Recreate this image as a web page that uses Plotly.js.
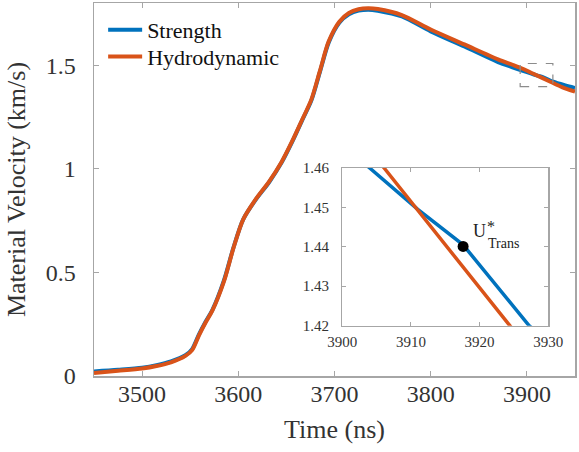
<!DOCTYPE html>
<html>
<head>
<meta charset="utf-8">
<script src="https://cdn.plot.ly/plotly-3.0.1.min.js"></script>
<style>html,body{margin:0;padding:0;background:#fff;}#chart{width:579px;height:452px;}</style>
</head>
<body>
<div id="chart"></div>
<script>
// Strength model (blue)
const strengthTime = [3450, 3475, 3500, 3515, 3530, 3545, 3552, 3559, 3566, 3573, 3585, 3595, 3605, 3618, 3632, 3645, 3656, 3666, 3676, 3685, 3694, 3705, 3715, 3725, 3735, 3745, 3770, 3800, 3835, 3870, 3885, 3895, 3904, 3911, 3917.6, 3927.2, 3940, 3950];
const strengthVel  = [0.022, 0.03, 0.04, 0.052, 0.07, 0.10, 0.13, 0.20, 0.262, 0.318, 0.46, 0.62, 0.755, 0.85, 0.935, 1.03, 1.13, 1.23, 1.33, 1.47, 1.61, 1.705, 1.745, 1.763, 1.768, 1.763, 1.735, 1.663, 1.59, 1.515, 1.49, 1.474, 1.46, 1.4495, 1.4405, 1.42, 1.402, 1.39];
// Hydrodynamic model (orange)
const hydroTime = [3450, 3475, 3500, 3515, 3530, 3545, 3552, 3559, 3566, 3573, 3585, 3595, 3605, 3618, 3632, 3645, 3656, 3666, 3676, 3685, 3694, 3705, 3715, 3725, 3735, 3745, 3770, 3800, 3835, 3870, 3885, 3895, 3906.1, 3924.4, 3937, 3950];
const hydroVel  = [0.015, 0.025, 0.036, 0.048, 0.066, 0.097, 0.125, 0.195, 0.258, 0.315, 0.455, 0.618, 0.755, 0.852, 0.938, 1.033, 1.133, 1.233, 1.335, 1.475, 1.615, 1.71, 1.752, 1.77, 1.775, 1.771, 1.742, 1.672, 1.60, 1.528, 1.502, 1.484, 1.46, 1.42, 1.393, 1.372];
// Transition point
const transTime = [3917.6];
const transVel = [1.4401];
// Ticks
const xTicks = [3500, 3600, 3700, 3800, 3900];
const yTicks = [0, 0.5, 1, 1.5];
const yTickText = ['0', '0.5', '1', '1.5'];
const insetXTicks = [3900, 3910, 3920, 3930];
const insetYTicks = [1.42, 1.43, 1.44, 1.45, 1.46];
const insetYTickText = ['1.42', '1.43', '1.44', '1.45', '1.46'];

const BLUE = '#0072BD', ORANGE = '#D95319';
const FONT = "'Liberation Serif', 'Times New Roman', Times, serif";
const AX = '#a6a6a6', TXT = '#333333';

const traces = [
  {x: strengthTime, y: strengthVel, type: 'scatter', mode: 'lines', name: 'Strength', legend: 'legend',
   line: {color: BLUE, width: 4, shape: 'spline', smoothing: 0.8}, xaxis: 'x', yaxis: 'y'},
  {x: hydroTime, y: hydroVel, type: 'scatter', mode: 'lines', name: 'Hydrodynamic', legend: 'legend2',
   line: {color: ORANGE, width: 4, shape: 'spline', smoothing: 0.8}, xaxis: 'x', yaxis: 'y'},
  {x: strengthTime, y: strengthVel, type: 'scatter', mode: 'lines', showlegend: false,
   line: {color: BLUE, width: 3.5}, xaxis: 'x2', yaxis: 'y2'},
  {x: hydroTime, y: hydroVel, type: 'scatter', mode: 'lines', showlegend: false,
   line: {color: ORANGE, width: 3.5}, xaxis: 'x2', yaxis: 'y2'},
  {x: transTime, y: transVel, type: 'scatter', mode: 'markers', showlegend: false,
   marker: {color: '#000', size: 11}, xaxis: 'x2', yaxis: 'y2'}
];

const legendBase = {xanchor: 'left', yanchor: 'middle', bgcolor: 'rgba(0,0,0,0)',
                    font: {family: FONT, size: 22, color: '#111'}, itemwidth: 34};

const layout = {
  width: 579, height: 452,
  margin: {l: 94, r: 4, t: 3, b: 76},
  paper_bgcolor: '#fff', plot_bgcolor: '#fff',
  font: {family: FONT, color: TXT},
  showlegend: true,
  legend: Object.assign({x: 0.019, y: 0.928}, legendBase),
  legend2: Object.assign({x: 0.019, y: 0.856}, legendBase),
  xaxis: {range: [3450, 3950], tickvals: xTicks, ticks: 'inside', ticklen: 5, tickcolor: AX,
          showline: true, linecolor: AX, linewidth: 1.5, mirror: 'ticks', showgrid: false, zeroline: false,
          tickfont: {family: FONT, size: 24, color: TXT}, ticklabelstandoff: -4,
          title: {text: 'Time (ns)', font: {family: FONT, size: 26, color: TXT}, standoff: 13}},
  yaxis: {range: [0, 1.8], tickvals: yTicks, ticktext: yTickText, ticks: 'inside', ticklen: 5, tickcolor: AX,
          showline: true, linecolor: AX, linewidth: 1.5, mirror: 'ticks', showgrid: false, zeroline: false,
          tickfont: {family: FONT, size: 24, color: TXT}, ticklabelstandoff: 12,
          title: {text: 'Material Velocity (km/s)', font: {family: FONT, size: 26, color: TXT}, standoff: 12}},
  xaxis2: {domain: [0.516, 0.9445], anchor: 'y2', range: [3900, 3930], tickvals: insetXTicks,
           ticks: 'inside', ticklen: 4, tickcolor: AX, showline: true, linecolor: AX, linewidth: 1.2,
           mirror: 'ticks', showgrid: false, zeroline: false,
           tickfont: {family: FONT, size: 15, color: TXT}, ticklabelstandoff: 2},
  yaxis2: {domain: [0.135, 0.5576], anchor: 'x2', range: [1.42, 1.46], tickvals: insetYTicks, ticktext: insetYTickText,
           ticks: 'inside', ticklen: 4, tickcolor: AX, showline: true, linecolor: AX, linewidth: 1.2,
           mirror: 'ticks', showgrid: false, zeroline: false,
           tickfont: {family: FONT, size: 15, color: TXT}, ticklabelstandoff: 9},
  shapes: [
    {type: 'rect', xref: 'x', yref: 'y', x0: 3893, x1: 3927, y0: 1.396, y1: 1.508,
     line: {color: '#8c8c8c', width: 1.2, dash: 'dash'}, fillcolor: 'rgba(0,0,0,0)'}
  ],
  annotations: [
    {xref: 'x2', yref: 'y2', x: 3918.8, y: 1.4439, text: 'U', showarrow: false, xanchor: 'left', yanchor: 'middle',
     font: {family: FONT, size: 18, color: '#222'}},
    {xref: 'x2', yref: 'y2', x: 3921.6, y: 1.4452, text: '*', showarrow: false, xanchor: 'center', yanchor: 'middle',
     font: {family: FONT, size: 16, color: '#222'}},
    {xref: 'x2', yref: 'y2', x: 3920.9, y: 1.4409, text: 'Trans', showarrow: false, xanchor: 'left', yanchor: 'middle',
     font: {family: FONT, size: 14, color: '#222'}}
  ]
};

Plotly.newPlot('chart', traces, layout, {displayModeBar: false, staticPlot: true});
</script>
</body>
</html>
